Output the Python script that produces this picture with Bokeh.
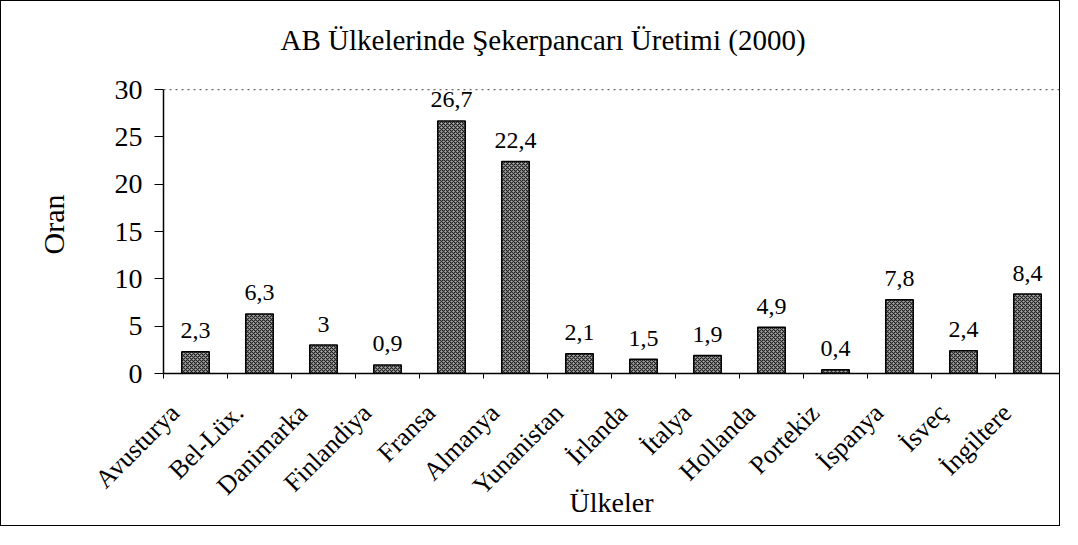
import numpy as np
from math import pi
from bokeh.plotting import figure
from bokeh.models import ColumnDataSource, Label, FixedTicker, Range1d, Span
from bokeh.embed import file_html
from bokeh.resources import INLINE

# ---- data ----
categories = ["Avusturya", "Bel-Lüx.", "Danimarka", "Finlandiya", "Fransa", "Almanya",
              "Yunanistan", "İrlanda", "İtalya", "Hollanda", "Portekiz", "İspanya",
              "İsveç", "İngiltere"]
values = [2.3, 6.3, 3, 0.9, 26.7, 22.4, 2.1, 1.5, 1.9, 4.9, 0.4, 7.8, 2.4, 8.4]
y_ticks = [0, 5, 10, 15, 20, 25, 30]
title_text = "AB Ülkelerinde Şekerpancarı Üretimi (2000)"
x_label = "Ülkeler"
y_label = "Oran"

FONT = "Liberation Serif"

n = len(categories)
y_top = y_ticks[-1]
centers = np.arange(n) + 0.5
value_labels = [f"{v:g}".replace(".", ",") for v in values]
source = ColumnDataSource(dict(x=centers, top=values, label=value_labels))

p = figure(width=1060, height=526, output_backend="svg", toolbar_location=None, tools="",
           x_range=Range1d(0, n), y_range=Range1d(0, y_top * 1.05),
           min_border_left=162, min_border_right=2, min_border_top=70, min_border_bottom=154,
           title=title_text)
p.styles = {"border": "1px solid black"}

p.title.align = "left"
p.title.offset = 117
p.title.standoff = 40
p.title.text_font = FONT
p.title.text_font_size = "29px"
p.title.text_font_style = "normal"
p.title.text_color = "black"

p.vbar(x="x", top="top", width=0.43, source=source,
       fill_color="#acacac", line_color="black", line_width=1.5,
       hatch_pattern="diagonal_cross", hatch_color="#222222", hatch_scale=4, hatch_weight=1.2)

for xc, v, t in zip(centers, values, value_labels):
    p.add_layout(Label(x=xc, y=v, text=t, text_align="center", text_baseline="alphabetic",
                       y_offset=21, text_font=FONT, text_font_size="24px", text_color="black"))

# plot-area border (dotted, top and right) at the top of the value axis
p.outline_line_color = None
p.add_layout(Span(location=y_top, dimension="width", line_color="#444444",
                  line_dash="dotted", line_width=1))
p.segment(x0=[n], y0=[0], x1=[n], y1=[y_top], line_color="#444444",
          line_dash="dotted", line_width=1)

p.xgrid.visible = False
p.ygrid.visible = False

# x axis: labels anchored left of the bar centre, ticks at category boundaries
label_shift = 0.32
label_ticks = [float(c - label_shift) for c in centers]
xa = p.xaxis[0]
xa.ticker = FixedTicker(ticks=label_ticks, minor_ticks=list(range(n + 1)))
xa.major_label_overrides = {t: cat for t, cat in zip(label_ticks, categories)}
xa.major_tick_line_color = None
xa.major_tick_out = 0
xa.major_tick_in = 0
xa.minor_tick_line_color = "black"
xa.minor_tick_out = 5
xa.minor_tick_in = 0
xa.major_label_orientation = pi / 4
xa.major_label_standoff = 30
xa.major_label_text_font = FONT
xa.major_label_text_font_size = "26px"
xa.major_label_text_color = "black"
xa.axis_line_color = "black"
xa.axis_line_width = 1.5
xa.axis_label = x_label
xa.axis_label_text_font = FONT
xa.axis_label_text_font_size = "28px"
xa.axis_label_text_font_style = "normal"
xa.axis_label_text_color = "black"
xa.axis_label_standoff = -27

# y axis
ya = p.yaxis[0]
ya.bounds = (0, y_top)
ya.ticker = FixedTicker(ticks=y_ticks, minor_ticks=[])
ya.major_tick_out = 9
ya.major_tick_in = 0
ya.major_tick_line_color = "black"
ya.minor_tick_line_color = None
ya.major_label_standoff = 12
ya.major_label_text_font = FONT
ya.major_label_text_font_size = "28px"
ya.major_label_text_color = "black"
ya.axis_line_color = "black"
ya.axis_line_width = 1.5
ya.axis_label = y_label
ya.axis_label_text_font = FONT
ya.axis_label_text_font_size = "30px"
ya.axis_label_text_font_style = "normal"
ya.axis_label_text_color = "black"
ya.axis_label_standoff = 42

open("out.html", "w").write(file_html(p, INLINE))
